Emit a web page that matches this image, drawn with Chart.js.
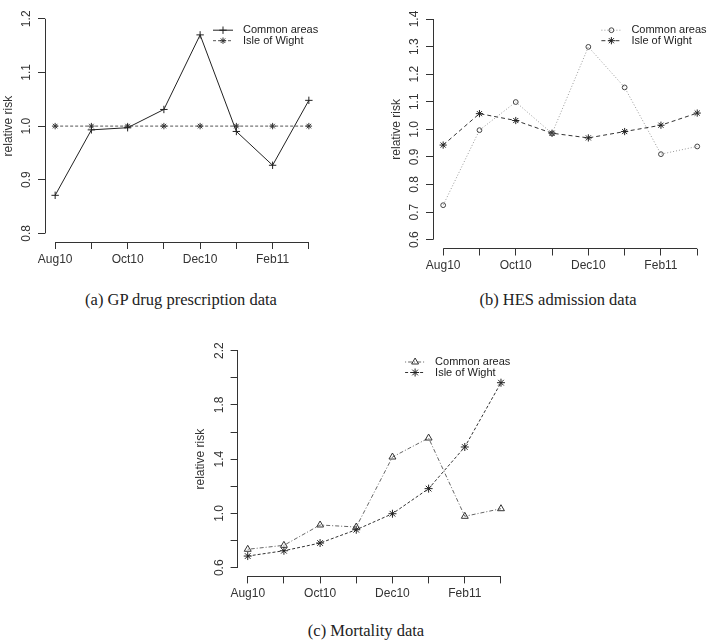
<!DOCTYPE html>
<html>
<head>
<meta charset="utf-8">
<script src="https://cdn.jsdelivr.net/npm/chart.js@4.4.0/dist/chart.umd.min.js"></script>
<style>
  html, body { margin: 0; padding: 0; background: #fff; overflow: hidden; width: 707px; height: 642px; }
  canvas { position: absolute; }
  .cap { position: absolute; font-family: "Liberation Serif", serif; font-size: 16.5px; color: #222; white-space: nowrap; transform: translate(-50%, -50%); }
</style>
</head>
<body>
<canvas id="chartA" width="330" height="275" style="left:0px;top:0px"></canvas>
<canvas id="chartB" width="330" height="282" style="left:388px;top:0px"></canvas>
<canvas id="chartC" width="330" height="280" style="left:192px;top:330px"></canvas>
<div class="cap" style="left:181px;top:300px">(a) GP drug prescription data</div>
<div class="cap" style="left:558px;top:300px">(b) HES admission data</div>
<div class="cap" style="left:366px;top:631px">(c) Mortality data</div>
<script>
const months = ['Aug10', 'Sep10', 'Oct10', 'Nov10', 'Dec10', 'Jan11', 'Feb11', 'Mar11'];
const monthLabels = ['Aug10', '', 'Oct10', '', 'Dec10', '', 'Feb11', ''];

// (a) GP drug prescription data
const gpCommon = [0.871, 0.993, 0.997, 1.031, 1.170, 0.990, 0.927, 1.048];
const gpWight = [1.0, 1.0, 1.0, 1.0, 1.0, 1.0, 1.0, 1.0];
const gpTicks = [0.8, 0.9, 1.0, 1.1, 1.2];
const gpTickLabels = ['0.8', '0.9', '1.0', '1.1', '1.2'];

// (b) HES admission data
const hesCommon = [0.725, 0.997, 1.099, 0.985, 1.299, 1.152, 0.910, 0.938];
const hesWight = [0.943, 1.057, 1.032, 0.986, 0.969, 0.992, 1.015, 1.059];
const hesTicks = [0.6, 0.7, 0.8, 0.9, 1.0, 1.1, 1.2, 1.3, 1.4];
const hesTickLabels = ['0.6', '0.7', '0.8', '0.9', '1.0', '1.1', '1.2', '1.3', '1.4'];

// (c) Mortality data
const mortCommon = [0.736, 0.765, 0.915, 0.900, 1.416, 1.556, 0.979, 1.035];
const mortWight = [0.686, 0.725, 0.782, 0.880, 0.998, 1.183, 1.490, 1.964];
const mortTicks = [0.6, 0.8, 1.0, 1.2, 1.4, 1.6, 1.8, 2.0, 2.2];
const mortTickLabels = ['0.6', '', '1.0', '', '1.4', '', '1.8', '', '2.2'];

const sans = '"Liberation Sans", Arial, sans-serif';
const ink = '#333';

function align(p) { return Math.round(p - 0.5) + 0.5; }

// R style axes: line only from first to last tick
const axisLines = {
  id: 'axisLines',
  afterDraw(chart) {
    const {ctx, chartArea, scales: {x, y}} = chart;
    const xt = x.ticks, yt = y.ticks;
    ctx.save();
    ctx.strokeStyle = ink;
    ctx.lineWidth = 1;
    ctx.beginPath();
    const ax = align(chartArea.left), ay = align(chartArea.bottom);
    ctx.moveTo(ax, y.getPixelForValue(yt[0].value));
    ctx.lineTo(ax, y.getPixelForValue(yt[yt.length - 1].value));
    ctx.moveTo(x.getPixelForValue(xt[0].value), ay);
    ctx.lineTo(x.getPixelForValue(xt[xt.length - 1].value), ay);
    ctx.stroke();
    ctx.restore();
  }
};

// legend in the top right corner, line sample with marker
const cornerLegend = {
  id: 'cornerLegend',
  afterDraw(chart) {
    const {ctx, chartArea} = chart;
    chart.data.datasets.forEach((ds, i) => {
      const yy = chartArea.top + 20 + i * 10.5;
      const x0 = chartArea.right - 106, x1 = chartArea.right - 86;
      ctx.save();
      ctx.strokeStyle = ds.borderColor;
      ctx.lineWidth = 1;
      ctx.setLineDash(ds.borderDash || []);
      ctx.beginPath();
      ctx.moveTo(x0, yy);
      ctx.lineTo(x1, yy);
      ctx.stroke();
      ctx.setLineDash([]);
      ctx.strokeStyle = ds.pointBorderColor;
      ctx.fillStyle = 'rgba(0,0,0,0)';
      ctx.lineWidth = 1;
      Chart.helpers.drawPoint(ctx, {pointStyle: ds.pointStyle, radius: ds.pointRadius, borderWidth: 1, rotation: 0}, (x0 + x1) / 2, yy);
      ctx.fillStyle = '#222';
      ctx.font = '11px ' + sans;
      ctx.textBaseline = 'middle';
      ctx.fillText(ds.label, chartArea.right - 76, yy);
      ctx.restore();
    });
  }
};

function makeChart(id, p) {
  const datasets = p.series.map(s => ({
    label: s.label,
    data: s.values.map((v, i) => ({x: i + 1, y: v})),
    borderColor: s.color,
    borderWidth: 1,
    borderDash: s.dash,
    pointStyle: s.marker,
    pointRadius: s.radius,
    pointBorderColor: s.markerColor,
    pointBackgroundColor: 'rgba(0,0,0,0)',
    pointBorderWidth: 1,
    tension: 0,
    clip: false
  }));
  return new Chart(document.getElementById(id), {
    type: 'line',
    data: {datasets},
    options: {
      responsive: false,
      animation: false,
      layout: {padding: {left: 0, top: p.padTop, right: p.padRight, bottom: 0}},
      plugins: {legend: {display: false}, tooltip: {enabled: false}},
      scales: {
        x: {
          type: 'linear',
          min: 0.72,
          max: 8.28,
          afterBuildTicks: s => { s.ticks = months.map((m, i) => ({value: i + 1})); },
          afterFit: s => { s.height = p.xHeight; },
          ticks: {
            callback: (v, i) => monthLabels[i],
            autoSkip: false, maxRotation: 0, minRotation: 0, padding: 3,
            color: ink, font: {family: sans, size: 12}
          },
          grid: {display: true, drawOnChartArea: false, drawTicks: true, tickLength: 7, color: ink},
          border: {display: false}
        },
        y: {
          type: 'linear',
          min: p.yMin,
          max: p.yMax,
          afterBuildTicks: s => { s.ticks = p.yTicks.map(v => ({value: v})); },
          afterFit: s => { s.width = p.yWidth; },
          ticks: {
            callback: (v, i) => p.yLabels[i],
            autoSkip: false, minRotation: 90, maxRotation: 90, crossAlign: 'center', padding: 3,
            color: ink, font: {family: sans, size: 12}
          },
          grid: {display: true, drawOnChartArea: false, drawTicks: true, tickLength: 7, color: ink},
          border: {display: false},
          title: {display: true, text: 'relative risk', color: ink, font: {family: sans, size: 12}, padding: {top: 1, bottom: 0}}
        }
      }
    },
    plugins: [axisLines, cornerLegend]
  });
}

makeChart('chartA', {
  yMin: 0.784, yMax: 1.216, yTicks: gpTicks, yLabels: gpTickLabels,
  yWidth: 45, xHeight: 33, padTop: 7.3, padRight: 11,
  series: [
    {label: 'Common areas', values: gpCommon, color: '#222', dash: [], marker: 'cross', radius: 3.7, markerColor: '#222'},
    {label: 'Isle of Wight', values: gpWight, color: '#555', dash: [3, 2], marker: 'star', radius: 3.2, markerColor: '#333'}
  ]
});

makeChart('chartB', {
  yMin: 0.568, yMax: 1.432, yTicks: hesTicks, yLabels: hesTickLabels,
  yWidth: 45, xHeight: 33.5, padTop: 0.1, padRight: 10.6,
  series: [
    {label: 'Common areas', values: hesCommon, color: '#999', dash: [1, 2], marker: 'circle', radius: 2.4, markerColor: '#444'},
    {label: 'Isle of Wight', values: hesWight, color: '#333', dash: [4, 3], marker: 'star', radius: 3.6, markerColor: '#222'}
  ]
});

makeChart('chartC', {
  yMin: 0.536, yMax: 2.264, yTicks: mortTicks, yLabels: mortTickLabels,
  yWidth: 45.6, xHeight: 33.6, padTop: 12, padRight: 10.9,
  series: [
    {label: 'Common areas', values: mortCommon, color: '#666', dash: [1, 2, 4, 2], marker: 'triangle', radius: 4, markerColor: '#333'},
    {label: 'Isle of Wight', values: mortWight, color: '#333', dash: [3, 2], marker: 'star', radius: 4, markerColor: '#222'}
  ]
});
</script>
</body>
</html>
